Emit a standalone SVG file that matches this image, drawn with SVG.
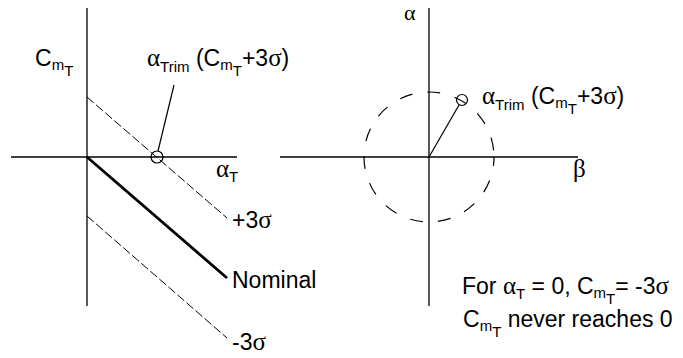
<svg xmlns="http://www.w3.org/2000/svg" width="683" height="358" viewBox="0 0 683 358">
<style>
.ax{stroke:#000;stroke-width:1.3;fill:none}
.dl{stroke:#000;stroke-width:1;fill:none;stroke-dasharray:9,3}
.dc{stroke:#000;stroke-width:1.2;fill:none;stroke-dasharray:13,15}
.th{stroke:#000;stroke-width:2.8;fill:none}
.ln{stroke:#000;stroke-width:1.2;fill:none}
text{font-family:"Liberation Sans",Arial,sans-serif;font-size:23px;fill:#000}
.g{font-family:"Liberation Serif","DejaVu Serif",serif;font-size:25px}
.s{font-size:15px}
</style>
<rect width="683" height="358" fill="#fff"/>
<g id="left-panel">
<line class="ax" x1="87" y1="8" x2="87" y2="306"/>
<line class="ax" x1="11" y1="157" x2="237" y2="157"/>
<line class="dl" x1="87" y1="97" x2="227" y2="218"/>
<line class="th" x1="87" y1="157" x2="227" y2="278"/>
<line class="dl" x1="87" y1="216" x2="227" y2="338"/>
<circle class="ln" cx="157" cy="157" r="6"/>
<line class="ln" x1="174" y1="85" x2="158" y2="151"/>
<text x="35" y="66">C<tspan class="s" dy="4">m</tspan><tspan class="s" dy="6">T</tspan></text>
<text x="147" y="66"><tspan class="g">α</tspan><tspan class="s" dy="6">Trim</tspan><tspan dy="-6"> (C</tspan><tspan class="s" dy="4">m</tspan><tspan class="s" dy="6">T</tspan><tspan dy="-10">+3</tspan><tspan class="g">σ</tspan>)</text>
<text x="216" y="177"><tspan class="g">α</tspan><tspan class="s" dy="5">T</tspan></text>
<text x="232" y="228">+3<tspan class="g">σ</tspan></text>
<text x="232" y="288">Nominal</text>
<text x="232" y="350">-3<tspan class="g">σ</tspan></text>
</g>
<g id="right-panel">
<line class="ax" x1="280" y1="157" x2="578" y2="157"/>
<line class="ax" x1="429" y1="8" x2="429" y2="306"/>
<circle class="dc" cx="429" cy="157" r="65" stroke-dashoffset="4"/>
<circle class="ln" cx="462" cy="100" r="5.5"/>
<line class="ln" x1="429" y1="157" x2="459" y2="105"/>
<text x="404" y="20" class="g" style="font-size:22px">α</text>
<text x="573" y="177" class="g">β</text>
<text x="482" y="104"><tspan class="g">α</tspan><tspan class="s" dy="6">Trim</tspan><tspan dy="-6"> (C</tspan><tspan class="s" dy="4">m</tspan><tspan class="s" dy="6">T</tspan><tspan dy="-10">+3</tspan><tspan class="g">σ</tspan>)</text>
<text x="462" y="294">For <tspan class="g">α</tspan><tspan class="s" dy="5">T</tspan><tspan dy="-5"> = 0, C</tspan><tspan class="s" dy="4">m</tspan><tspan class="s" dy="6">T</tspan><tspan dy="-10">= -3</tspan><tspan class="g">σ</tspan></text>
<text x="463" y="327">C<tspan class="s" dy="4">m</tspan><tspan class="s" dy="6">T</tspan><tspan dy="-10"> never reaches 0</tspan></text>
</g>
</svg>
